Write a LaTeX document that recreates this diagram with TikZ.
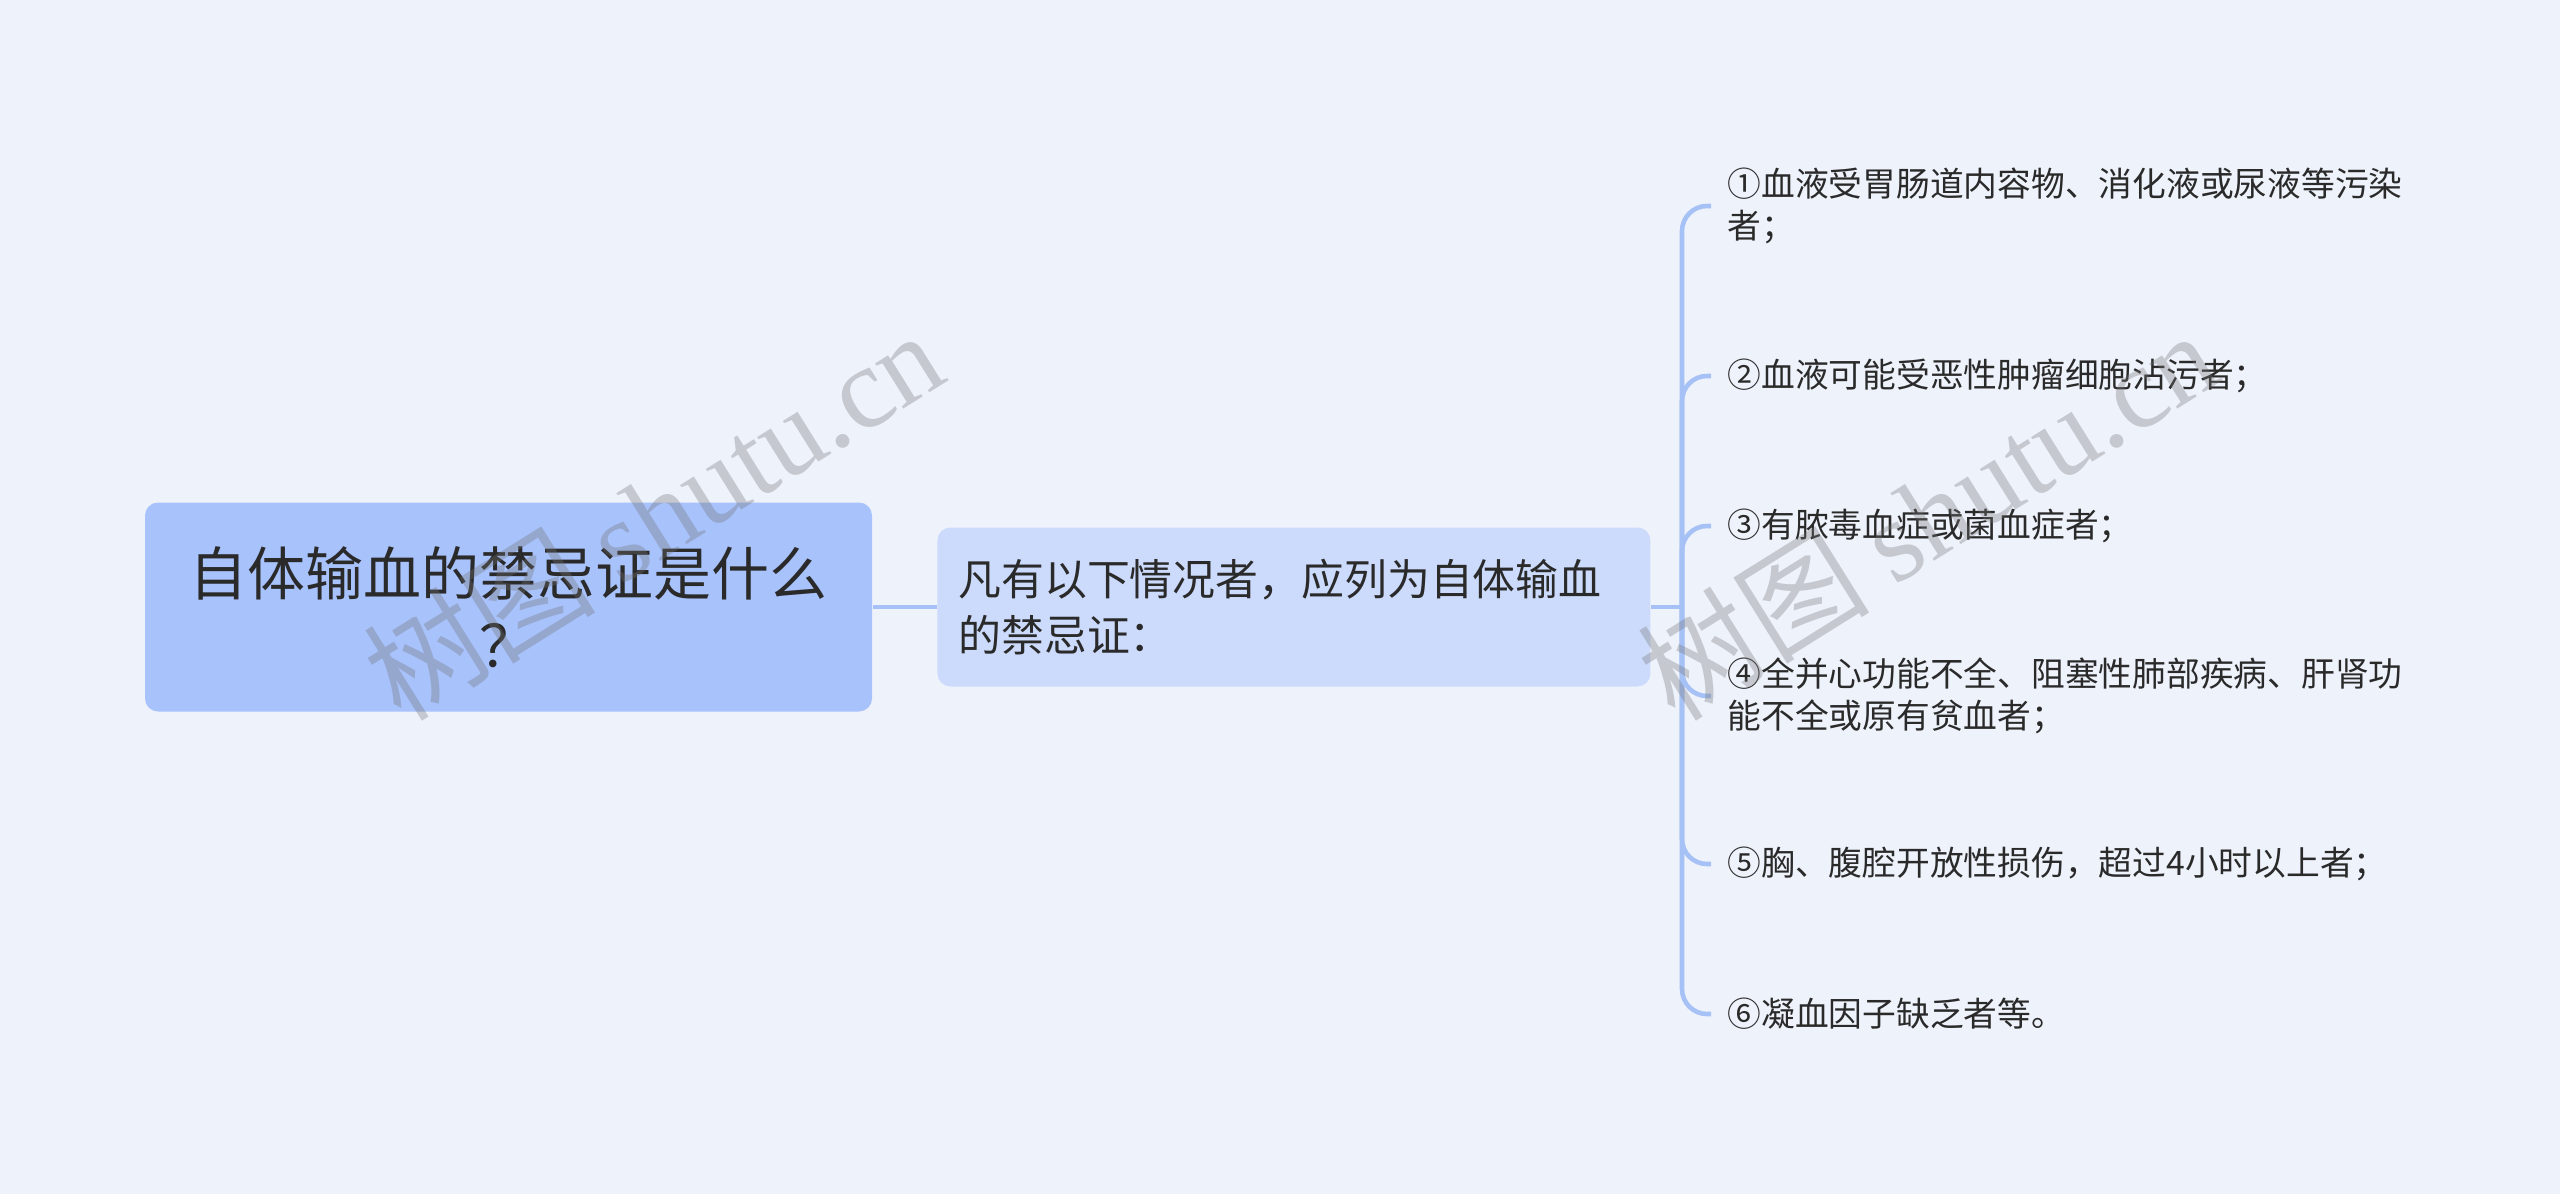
\documentclass[tikz,border=0pt]{standalone}
\usepackage{fontspec}
\setmainfont{Noto Sans CJK SC}
\newfontfamily\wmfont{Liberation Serif}
\usetikzlibrary{positioning}
\definecolor{bgcol}{HTML}{EEF2FB}
\definecolor{rootcol}{HTML}{A8C2FC}
\definecolor{midcol}{HTML}{CCDBFB}
\definecolor{linkcol}{HTML}{A6C1F5}
\definecolor{txtcol}{HTML}{2A2A2A}

\begin{document}
\begin{tikzpicture}[
    rootbox/.style={rectangle, rounded corners=0.13cm, fill=rootcol, minimum width=7.27cm, minimum height=2.09cm, align=center, text=txtcol, font=\fontsize{16.5}{20.5}\selectfont},
    midbox/.style={rectangle, rounded corners=0.13cm, fill=midcol, minimum width=7.13cm, minimum height=1.59cm, text width=6.71cm, align=left, text=txtcol, font=\fontsize{12.2}{16}\selectfont},
    leaf/.style={anchor=west, inner xsep=0.16cm, inner ysep=0pt, align=left, text=txtcol, font=\fontsize{9.6}{12}\selectfont},
    link/.style={draw=linkcol, line width=1.3pt},
    wmark/.style={text=black!55, text opacity=0.33, rotate=32, font=\fontsize{33}{33}\selectfont},
]

% Canvas
\fill[bgcol] (0,0) rectangle (25.6,11.94);
\useasboundingbox (0,0) rectangle (25.6,11.94);

% Root and middle
\node[rootbox] (root) at (5.085, 5.87) {自体输血的禁忌证是什么\\？};
\node[midbox, right=0.64cm of root] (mid) {凡有以下情况者，应列为自体输血\\的禁忌证：};
\draw[link] (root) -- (mid);

% Hub on the bracket
\coordinate (hub) at (16.82, 5.87);
\draw[link] (mid) -- (hub);

% Leaves
\foreach \i/\y/\txt in {
    1/9.88/{①血液受胃肠道内容物、消化液或尿液等污染\\者；},
    2/8.18/{②血液可能受恶性肿瘤细胞沾污者；},
    3/6.68/{③有脓毒血症或菌血症者；},
    4/4.98/{④全并心功能不全、阻塞性肺部疾病、肝肾功\\能不全或原有贫血者；},
    5/3.30/{⑤胸、腹腔开放性损伤，超过4小时以上者；},
    6/1.80/{⑥凝血因子缺乏者等。}} {
    \node[leaf] (leaf\i) at (17.11, \y) {\txt};
    \draw[link, rounded corners=0.25cm] (hub) |- (leaf\i.west);
}

% Watermarks (on top)
\node[wmark] (wm1) at (6.53, 6.80) {树图 {\wmfont shutu.cn}};
\node[wmark] (wm2) at (19.27, 6.80) {树图 {\wmfont shutu.cn}};

\end{tikzpicture}
\end{document}
